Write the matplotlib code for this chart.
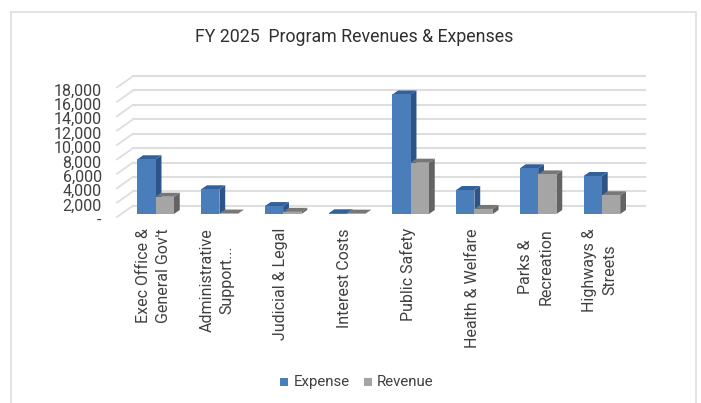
"""FY 2025 program revenues and expenses, faked 3D clustered columns."""

import matplotlib
matplotlib.use("Agg")
import matplotlib.pyplot as plt
from matplotlib.patches import Polygon, Rectangle
from matplotlib.transforms import ScaledTranslation

categories = ["Exec Office &\nGeneral Gov't", "Administrative\nSupport...", "Judicial & Legal",
              "Interest Costs", "Public Safety", "Health & Welfare", "Parks &\nRecreation",
              "Highways &\nStreets"]
expense = [7600, 3430, 1100, 100, 16600, 3330, 6350, 5280]
revenue = [2400, 60, 300, 50, 7130, 700, 5500, 2600]
y_ticks = list(range(0, 18001, 2000))
y_labels = ["-"] + [f"{v:,}" for v in y_ticks[1:]]

W, H = 701, 403
PX_X = 1 / 63.8          # categories per pixel
PX_Y = 2000 / 14.4       # value per pixel

plt.rcParams["font.family"] = ["Roboto", "DejaVu Sans"]
TEXT = "#404040"


def depth(px, py):
    return px * PX_X, py * PX_Y


def box(ax, x, width, top, front, side, cap):
    ox, oy = depth(6.8, 3)
    dx, dy = depth(5.8, 4)
    x0, x1 = x + ox, x + width + ox
    y0, y1 = oy, top + oy
    ax.add_patch(Polygon([(x1, y0), (x1 + dx, y0 + dy), (x1 + dx, y1 + dy), (x1, y1)],
                         fc=side, ec="none", clip_on=False, zorder=3))
    ax.add_patch(Polygon([(x0, y1), (x0 + dx, y1 + dy), (x1 + dx, y1 + dy), (x1, y1)],
                         fc=cap, ec="none", clip_on=False, zorder=3))
    ax.add_patch(Rectangle((x0, y0), width, top, fc=front, ec="none", clip_on=False, zorder=4))


fig = plt.figure(figsize=(W / 100, H / 100), dpi=100)
fig.add_artist(Rectangle((11 / W, -0.01), (696 - 11) / W, 1 - 12 / H + 0.01, fill=False,
                         ec="#dedede", lw=1.2, transform=fig.transFigure))
ax = fig.add_axes([117 / W, 1 - 217 / H, 510 / W, 129.6 / H])
ax.set_xlim(0, 8)
ax.set_ylim(0, 18000)
for s in ax.spines.values():
    s.set_visible(False)

# back wall gridlines and the diagonal run to the front plane
bx, by = depth(16, 11.3)
grid_end = 8 + bx + 2 * PX_X
for v in y_ticks:
    ax.plot([0, bx], [v, v + by], color="#dedede", lw=1.3, clip_on=False, zorder=1)
    ax.plot([bx, grid_end], [v + by, v + by], color="#dedede", lw=1.5, clip_on=False, zorder=1)

bar_w = 18.3 * PX_X
for i, (e, r) in enumerate(zip(expense, revenue)):
    box(ax, i + 0.5 - bar_w, bar_w, e, "#4a7ebb", "#2c5487", "#31609b")
    box(ax, i + 0.5, bar_w, r, "#a5a5a5", "#636363", "#777777")

ax.set_yticks(y_ticks, y_labels, fontsize=11.5, color=TEXT)
ax.set_xticks([i + 0.5 + 4.5 * PX_X for i in range(8)], categories, rotation=90, ha="center", va="top",
              multialignment="center", fontsize=11.5, color=TEXT, linespacing=1.45)
ax.tick_params(length=0)
ax.tick_params(axis="y", pad=11)
ax.tick_params(axis="x", pad=8)
# value labels sit a little under their gridlines
for label in ax.get_yticklabels():
    label.set_transform(label.get_transform() + ScaledTranslation(0, -2 / 100, fig.dpi_scale_trans))

fig.text(354 / W, 1 - 37.5 / H, "FY 2025  Program Revenues & Expenses", ha="center", va="center",
         fontsize=12.8, color="#303030")

fig.add_artist(Rectangle((280 / W, 1 - 386 / H), 8 / W, 8 / H, fc="#4a7ebb", ec="none",
                         transform=fig.transFigure))
fig.add_artist(Rectangle((364 / W, 1 - 386 / H), 8 / W, 8 / H, fc="#a5a5a5", ec="none",
                         transform=fig.transFigure))
fig.text(294 / W, 1 - 382 / H, "Expense", va="center", fontsize=10.8, color=TEXT)
fig.text(377 / W, 1 - 382 / H, "Revenue", va="center", fontsize=10.8, color=TEXT)

fig.savefig("out.png", dpi=100)
